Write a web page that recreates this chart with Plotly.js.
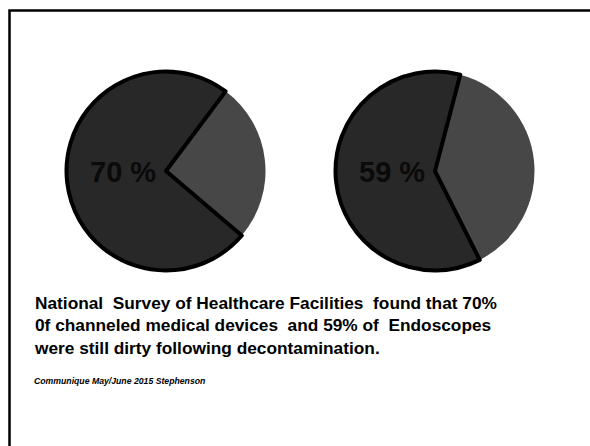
<!DOCTYPE html>
<html>
<head>
<meta charset="utf-8">
<script src="https://cdn.plot.ly/plotly-3.0.1.min.js"></script>
<style>html,body{margin:0;padding:0;background:#fff;}#chart{width:590px;height:446px;}</style>
</head>
<body>
<div id="chart"></div>
<script>
// Data
var pieNames = ['Channeled medical devices', 'Endoscopes'];
var sliceLabels = ['Clean', 'Dirty'];
var lightShare = [26, 38.5];   // remaining slice (drawn lighter)
var darkShare = [74, 61.5];    // dirty slice as drawn
var pieLabels = ['70 %', '59 %'];
var startAngle = [36.8, 14.7];
var bodyLines = [
  'National  Survey of Healthcare Facilities  found that 70%',
  '0f channeled medical devices  and 59% of  Endoscopes',
  'were still dirty following decontamination.'
];
var citation = 'Communique May/June 2015 Stephenson';

var W = 590, H = 446;
var centers = [[166, 171], [435, 171]];
var R = 99.5;

var traces = [];
var annotations = [];
for (var i = 0; i < pieNames.length; i++) {
  var cx = centers[i][0], cy = centers[i][1];
  traces.push({
    type: 'pie',
    name: pieNames[i],
    labels: sliceLabels,
    values: [lightShare[i], darkShare[i]],
    sort: false,
    direction: 'clockwise',
    rotation: startAngle[i],
    textinfo: 'none',
    hoverinfo: 'label+percent',
    marker: {
      colors: ['#474747', '#282828'],
      line: {color: ['rgba(0,0,0,0)', '#000000'], width: [0, 4]}
    },
    domain: {
      x: [(cx - R) / W, (cx + R) / W],
      y: [1 - (cy + R) / H, 1 - (cy - R) / H]
    },
    showlegend: false
  });
  annotations.push({
    text: '<b>' + pieLabels[i] + '</b>',
    xref: 'paper', yref: 'paper',
    x: (cx - 8.5) / W, y: 1 - 172 / H,
    xanchor: 'right', yanchor: 'middle',
    showarrow: false,
    font: {family: 'Liberation Sans, Arial, sans-serif', size: 29, color: '#0a0a0a'}
  });
}

annotations.push({
  text: '<b>' + bodyLines.join('<br>') + '</b>',
  xref: 'paper', yref: 'paper',
  x: 32 / W, y: 1 - 291 / H,
  xanchor: 'left', yanchor: 'top', align: 'left',
  showarrow: false,
  font: {family: 'Liberation Sans, Arial, sans-serif', size: 17.3, color: '#000000'}
});
annotations.push({
  text: '<b><i>' + citation + '</i></b>',
  xref: 'paper', yref: 'paper',
  x: 32 / W, y: 1 - 374 / H,
  xanchor: 'left', yanchor: 'top', align: 'left',
  showarrow: false,
  font: {family: 'Liberation Sans, Arial, sans-serif', size: 8.7, color: '#000000'}
});

var layout = {
  width: W, height: H,
  margin: {l: 0, r: 0, t: 0, b: 0},
  paper_bgcolor: '#ffffff',
  showlegend: false,
  annotations: annotations,
  shapes: [{
    type: 'rect', xref: 'paper', yref: 'paper',
    x0: 9.5 / W, x1: 1.05, y0: -0.05, y1: 1 - 10.5 / H,
    line: {color: '#000000', width: 2.5}
  }]
};

Plotly.newPlot('chart', traces, layout, {displayModeBar: false, staticPlot: true});
</script>
</body>
</html>
